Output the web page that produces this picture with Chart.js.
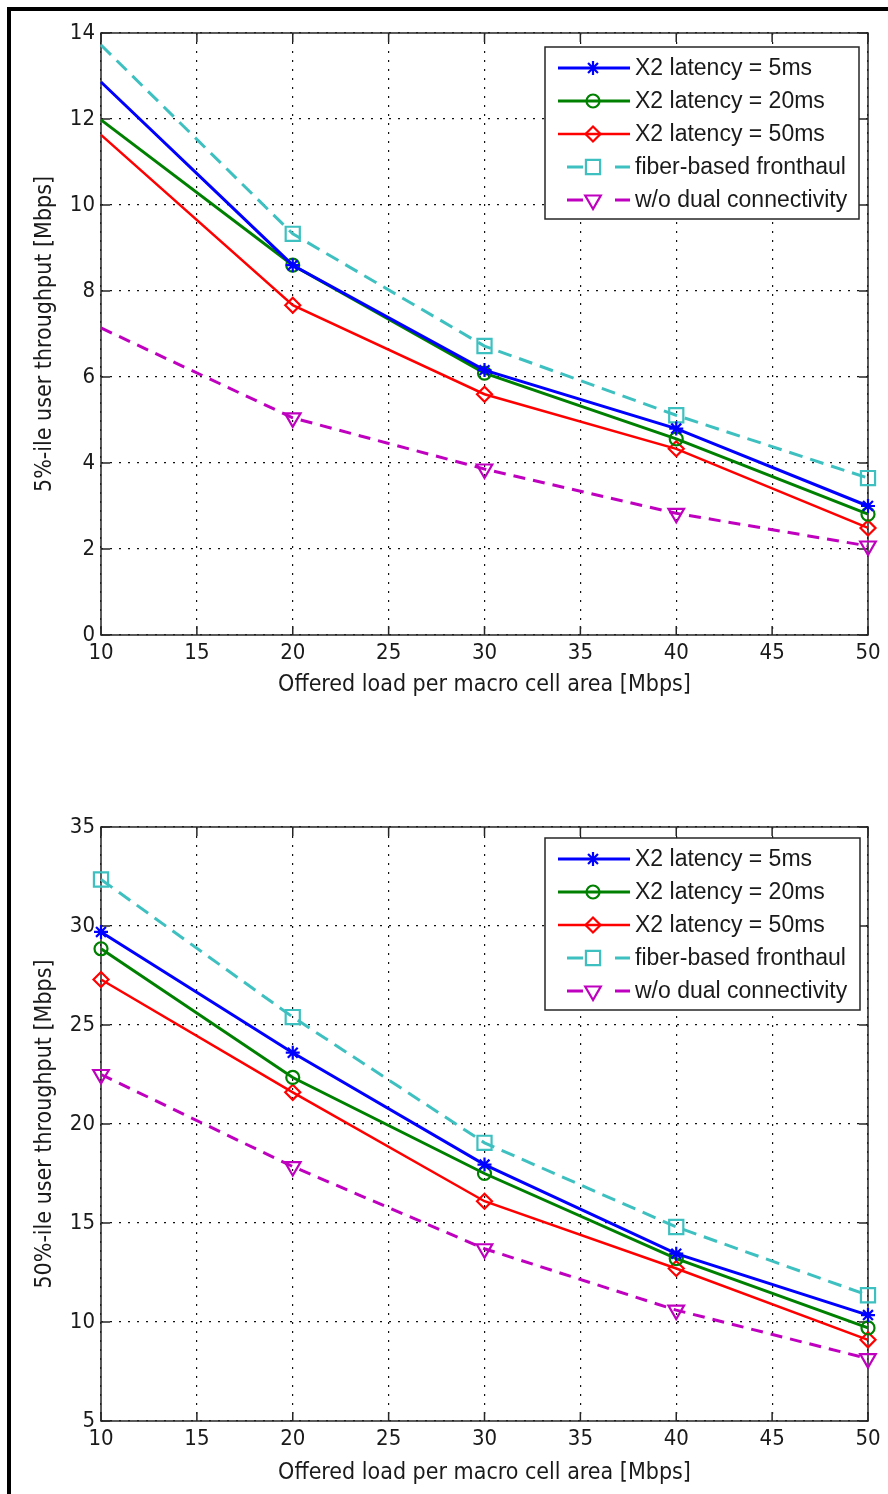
<!DOCTYPE html>
<html>
<head>
<meta charset="utf-8">
<script src="https://cdn.jsdelivr.net/npm/chart.js@4.4.1/dist/chart.umd.min.js"></script>
<style>
  body { margin: 0; background: #fff; width: 888px; height: 1494px; position: relative; overflow: hidden; }
  .frame { position: absolute; left: 7px; top: 7px; right: 0; bottom: 0; border-left: 4px solid #000; border-top: 4px solid #000; }
  canvas { position: absolute; left: 0; }
  #topChart { top: 0; }
  #bottomChart { top: 740px; }
</style>
</head>
<body>
<div class="frame"></div>
<canvas id="topChart" width="888" height="720"></canvas>
<canvas id="bottomChart" width="888" height="754"></canvas>
<script>
// offered load per macro cell area [Mbps]
const loads = [10, 20, 30, 40, 50];

// 5%-ile user throughput [Mbps]
const p5_x2_5ms  = [12.86, 8.60, 6.16, 4.80, 3.00];
const p5_x2_20ms = [11.98, 8.60, 6.09, 4.56, 2.81];
const p5_x2_50ms = [11.63, 7.67, 5.60, 4.33, 2.49];
const p5_fiber   = [13.72, 9.33, 6.72, 5.11, 3.65];
const p5_noDC    = [7.14, 5.05, 3.86, 2.83, 2.07];

// 50%-ile user throughput [Mbps]
const p50_x2_5ms  = [29.70, 23.60, 17.95, 13.45, 10.35];
const p50_x2_20ms = [28.85, 22.35, 17.50, 13.20, 9.70];
const p50_x2_50ms = [27.30, 21.60, 16.10, 12.70, 9.10];
const p50_fiber   = [32.35, 25.40, 19.05, 14.80, 11.35];
const p50_noDC    = [22.50, 17.85, 13.70, 10.60, 8.15];

const seriesLabels = ["X2 latency = 5ms", "X2 latency = 20ms", "X2 latency = 50ms",
                      "fiber-based fronthaul", "w/o dual connectivity"];
const yTicksTop = [0, 2, 4, 6, 8, 10, 12, 14];
const yTicksBottom = [5, 10, 15, 20, 25, 30, 35];

const narrowFont = '"Liberation Sans Narrow", "DejaVu Sans Condensed", Arial, sans-serif';
const legendFont = '23px "Liberation Sans", Arial, sans-serif';

// matlab-ish line styles, one per series
const seriesStyle = [
    {color: "#0000ff", width: 3, dash: null, marker: "star", size: 7, rot: 0},
    {color: "#008000", width: 3, dash: null, marker: "circle", size: 6.5, rot: 0},
    {color: "#ff0000", width: 2.5, dash: null, marker: "rectRot", size: 7.5, rot: 0},
    {color: "#3fc0c0", width: 3, dash: [14, 8], marker: "rect", size: 10, rot: 0},
    {color: "#bf00bf", width: 3, dash: [12, 8], marker: "triangle", size: 9, rot: 180}
];

function makeDatasets(seriesValues, hideFirstMarker) {
    return seriesValues.map((vals, i) => {
        const s = seriesStyle[i];
        return {
            label: seriesLabels[i],
            data: loads.map((x, k) => ({x: x, y: vals[k]})),
            borderColor: s.color,
            borderWidth: s.width,
            borderDash: s.dash || [],
            pointStyle: s.marker,
            pointRotation: s.rot,
            pointRadius: loads.map((x, k) => (hideFirstMarker && k === 0) ? 0 : s.size),
            pointBorderWidth: 2.2,
            pointBorderColor: s.color,
            pointBackgroundColor: "rgba(0,0,0,0)",
            markerSize: s.size,
            tension: 0,
            fill: false,
            clip: false
        };
    });
}

// box round the axes plus inward ticks, like matlab
const boxPlugin = {
    id: "matlabBox",
    beforeDatasetsDraw(chart) {
        const {ctx, chartArea: a, scales: {x, y}} = chart;
        ctx.save();
        ctx.strokeStyle = "#262626";
        ctx.lineWidth = 1.5;
        ctx.beginPath();
        x.ticks.forEach(t => {
            const px = x.getPixelForValue(t.value);
            ctx.moveTo(px, a.bottom); ctx.lineTo(px, a.bottom - 9);
            ctx.moveTo(px, a.top); ctx.lineTo(px, a.top + 9);
        });
        y.ticks.forEach(t => {
            const py = y.getPixelForValue(t.value);
            ctx.moveTo(a.left, py); ctx.lineTo(a.left + 9, py);
            ctx.moveTo(a.right, py); ctx.lineTo(a.right - 9, py);
        });
        ctx.stroke();
        ctx.strokeRect(a.left, a.top, a.right - a.left, a.bottom - a.top);
        ctx.restore();
    }
};

// legend box in the upper right corner of the plot
const legendPlugin = {
    id: "matlabLegend",
    afterDatasetsDraw(chart, args, opts) {
        const {ctx, chartArea: a} = chart;
        const sets = chart.data.datasets;
        const rowH = 33;
        const w = opts.width, h = rowH * sets.length + 7;
        const left = a.right - opts.inset - w, top = a.top + opts.offsetTop;
        ctx.save();
        ctx.fillStyle = "#fff";
        ctx.fillRect(left, top, w, h);
        ctx.strokeStyle = "#262626";
        ctx.lineWidth = 1.5;
        ctx.strokeRect(left, top, w, h);
        ctx.font = legendFont;
        ctx.textBaseline = "middle";
        sets.forEach((ds, i) => {
            const cy = top + 21 + i * rowH;
            ctx.strokeStyle = ds.borderColor;
            ctx.lineWidth = ds.borderWidth;
            ctx.beginPath();
            if (ds.borderDash.length) {
                ctx.moveTo(left + 22, cy); ctx.lineTo(left + 38, cy);
                ctx.moveTo(left + 70, cy); ctx.lineTo(left + 85, cy);
            } else {
                ctx.moveTo(left + 13, cy); ctx.lineTo(left + 85, cy);
            }
            ctx.stroke();
            ctx.fillStyle = "rgba(0,0,0,0)";
            ctx.lineWidth = 2.2;
            Chart.helpers.drawPoint(ctx, {
                pointStyle: ds.pointStyle, radius: ds.markerSize,
                rotation: ds.pointRotation, borderWidth: 2.2
            }, left + 48, cy);
            ctx.fillStyle = "#1a1a1a";
            ctx.fillText(ds.label, left + 90, cy + 1);
        });
        ctx.restore();
    }
};

function buildChart(canvasId, datasets, yMin, yMax, yStep, yTitle, pad, xHeight, legendOpts) {
    const ctx = document.getElementById(canvasId).getContext("2d");
    return new Chart(ctx, {
        type: "line",
        data: {datasets: datasets},
        plugins: [boxPlugin, legendPlugin],
        options: {
            responsive: false,
            animation: false,
            devicePixelRatio: 1,
            layout: {padding: pad},
            plugins: {
                legend: {display: false},
                tooltip: {enabled: false},
                matlabLegend: legendOpts
            },
            scales: {
                x: {
                    type: "linear", min: 10, max: 50,
                    ticks: {stepSize: 5, padding: 5, color: "#1a1a1a",
                            font: {family: narrowFont, size: 22}},
                    grid: {color: "#111", lineWidth: 1.2, drawTicks: false},
                    border: {display: false, dash: [2, 7]},
                    title: {display: true, text: "Offered load per macro cell area [Mbps]",
                            color: "#1a1a1a", padding: 0,
                            font: {family: narrowFont, size: 23}},
                    afterFit: s => { s.height = xHeight; }
                },
                y: {
                    min: yMin, max: yMax,
                    ticks: {stepSize: yStep, padding: 6, color: "#1a1a1a",
                            font: {family: narrowFont, size: 22}},
                    grid: {color: "#111", lineWidth: 1.2, drawTicks: false},
                    border: {display: false, dash: [2, 7]},
                    title: {display: true, text: yTitle, color: "#1a1a1a", padding: 0,
                            font: {family: narrowFont, size: 23}},
                    afterFit: s => { s.width = 70; }
                }
            }
        }
    });
}

buildChart("topChart",
    makeDatasets([p5_x2_5ms, p5_x2_20ms, p5_x2_50ms, p5_fiber, p5_noDC], true),
    yTicksTop[0], yTicksTop[yTicksTop.length - 1], 2,
    "5%-ile user throughput [Mbps]",
    {top: 33, left: 31, right: 20, bottom: 21}, 64,
    {width: 314, inset: 9, offsetTop: 14});

buildChart("bottomChart",
    makeDatasets([p50_x2_5ms, p50_x2_20ms, p50_x2_50ms, p50_fiber, p50_noDC], false),
    yTicksBottom[0], yTicksBottom[yTicksBottom.length - 1], 5,
    "50%-ile user throughput [Mbps]",
    {top: 87, left: 31, right: 20, bottom: 7}, 66,
    {width: 315, inset: 8, offsetTop: 11});
</script>
</body>
</html>
